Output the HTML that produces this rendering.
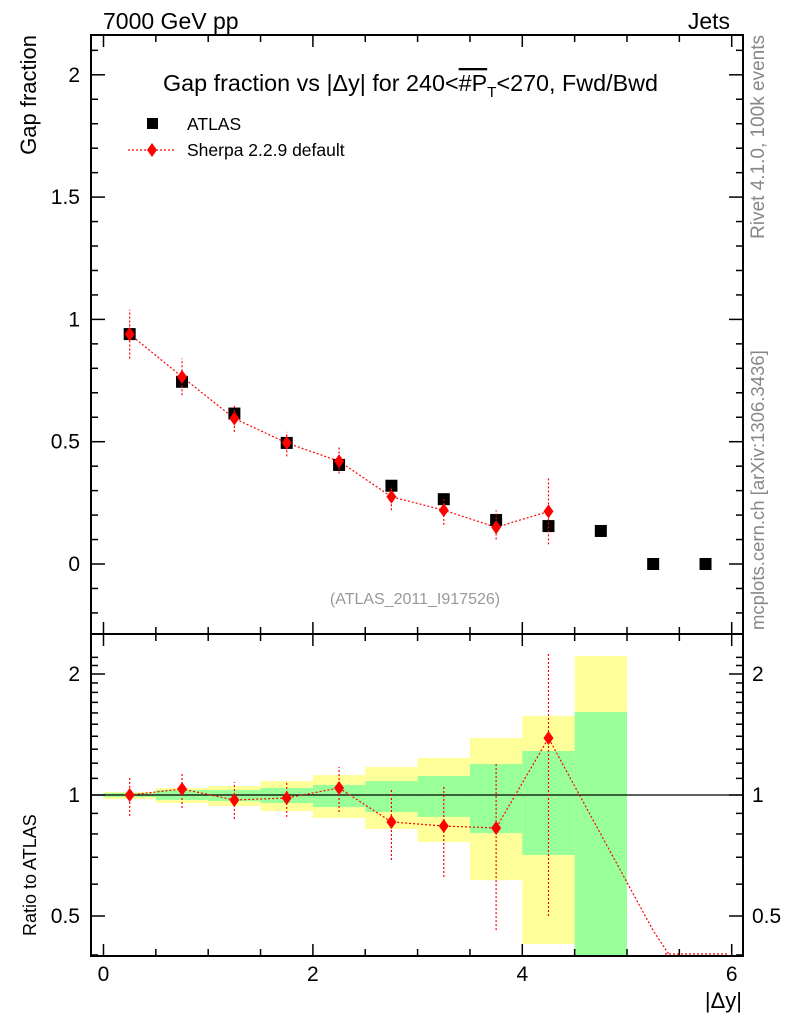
<!DOCTYPE html>
<html><head><meta charset="utf-8"><style>
html,body{margin:0;background:#fff;overflow:hidden;width:786px;height:1024px;}
svg{display:block;font-family:"Liberation Sans",sans-serif;}
</style></head><body>
<svg id="c" width="786" height="1024" xmlns="http://www.w3.org/2000/svg">
<defs>
<clipPath id="cpTop"><rect x="91" y="35" width="652" height="599"/></clipPath>
<clipPath id="cpBot"><rect x="91" y="634" width="652" height="322"/></clipPath>
</defs>
<g id="bands" clip-path="url(#cpBot)"></g>
<g id="lower" clip-path="url(#cpBot)"></g>
<g id="upper" clip-path="url(#cpTop)"></g>
<g id="axes"></g>
<text x="103" y="29" font-size="23">7000 GeV pp</text>
<text x="730" y="29" font-size="23" text-anchor="end">Jets</text>
<text x="163" y="91" font-size="23" textLength="495" lengthAdjust="spacingAndGlyphs">Gap fraction vs |Δy| for 240&lt;<tspan text-decoration="overline">#P</tspan><tspan font-size="15" dy="6">T</tspan><tspan dy="-6">&lt;270, Fwd/Bwd</tspan></text>
<rect x="147" y="118" width="11" height="11" fill="#000"/>
<text x="187" y="130" font-size="17.5">ATLAS</text>
<line x1="128" y1="150" x2="176" y2="150" stroke="red" stroke-dasharray="2,2" stroke-width="1.3"/>
<path d="M152 143 L157 150 L152 157 L147 150Z" fill="red"/>
<text x="187" y="156" font-size="17.5">Sherpa 2.2.9 default</text>
<text x="415" y="604" font-size="16" fill="#999" text-anchor="middle">(ATLAS_2011_I917526)</text>
<text transform="translate(36,35) rotate(-90)" font-size="22" text-anchor="end">Gap fraction</text>
<text transform="translate(36,936) rotate(-90)" font-size="18" text-anchor="start">Ratio to ATLAS</text>
<text x="742" y="1008" font-size="22" text-anchor="end">|Δy|</text>
<text transform="translate(764,35) rotate(-90)" font-size="19" fill="#888" text-anchor="end">Rivet 4.1.0,  100k events</text>
<text transform="translate(764,630) rotate(-90)" font-size="18.5" fill="#888" text-anchor="start">mcplots.cern.ch [arXiv:1306.3436]</text>
</svg>
<script>
const xCenters=[0.25,0.75,1.25,1.75,2.25,2.75,3.25,3.75,4.25,5.25,5.75];
const atlasVals=[0.94,0.745,0.615,0.495,0.405,0.32,0.265,0.18,0.155,0.135,0,0];
const atlasX=[0.25,0.75,1.25,1.75,2.25,2.75,3.25,3.75,4.25,4.75,5.25,5.75];
const sherpaVals=[0.94,0.765,0.595,0.495,0.42,0.275,0.22,0.15,0.215];
const sherpaLo=[0.84,0.69,0.54,0.44,0.37,0.22,0.16,0.10,0.08];
const sherpaHi=[1.04,0.84,0.65,0.54,0.48,0.32,0.27,0.22,0.35];
const ratioVals=[1.0,1.035,0.972,0.983,1.041,0.857,0.837,0.828,1.386,0.46,0.25];
const ratioLo=[0.887,0.928,0.872,0.882,0.907,0.689,0.625,0.461,0.5];
const ratioHi=[1.102,1.134,1.077,1.083,1.174,1.029,1.053,1.194,2.27];
const yellowHi=[1.017,1.041,1.053,1.083,1.121,1.174,1.236,1.386,1.573,2.216];
const yellowLo=[0.977,0.955,0.939,0.912,0.877,0.823,0.764,0.614,0.426,0.01];
const greenHi=[1.011,1.029,1.029,1.041,1.059,1.083,1.115,1.194,1.287,1.609];
const greenLo=[0.989,0.972,0.966,0.955,0.933,0.907,0.882,0.804,0.709,0.01];
const xTicks=[0,2,4,6];
const yTicks=[0,0.5,1,1.5,2];
const rTicks=[0.5,1,2];
const NS="http://www.w3.org/2000/svg";
const X=v=>103.5+v*104.7;
const Y=v=>564-v*244.6;
const R=v=>Math.min(1010,795-Math.log2(v)*121);
function mk(p,t,a){const e=document.createElementNS(NS,t);for(const k in a)e.setAttribute(k,a[k]);document.getElementById(p).appendChild(e);return e;}
for(let i=0;i<yellowHi.length;i++){
  let x0=X(i*0.5),x1=X(i*0.5+0.5);
  let e=mk('bands','rect',{x:x0,y:R(yellowHi[i]),width:x1-x0,height:Math.min(R(yellowLo[i]),960)-R(yellowHi[i]),fill:'#ffff99'});
  
  
  e=mk('bands','rect',{x:x0,y:R(greenHi[i]),width:x1-x0,height:Math.min(R(greenLo[i]),960)-R(greenHi[i]),fill:'#99ff99'});
  
  
}
let e=mk('lower','line',{x1:91,x2:743,y1:R(1),y2:R(1),stroke:'#000','stroke-width':1.2});


let pts=ratioVals.map((v,i)=>X(xCenters[i])+','+R(v)).join(' ');
e=mk('lower','polyline',{points:pts,fill:'none',stroke:'red','stroke-width':1.2,'stroke-dasharray':'2,2'});


e=mk('lower','line',{x1:665,x2:727,y1:954,y2:954,stroke:'red','stroke-width':1.2,'stroke-dasharray':'2,2'});


for(let i=0;i<ratioLo.length;i++){
  const x=X(xCenters[i]),y=R(ratioVals[i]);
  e=mk('lower','line',{x1:x,x2:x,y1:R(ratioLo[i]),y2:R(ratioHi[i]),stroke:'red','stroke-width':1.2,'stroke-dasharray':'2,2'});
  
  
  e=mk('lower','path',{d:`M${x} ${y-7}L${x+5} ${y}L${x} ${y+7}L${x-5} ${y}Z`,fill:'red'});
  
  
}
pts=sherpaVals.map((v,i)=>X(xCenters[i])+','+Y(v)).join(' ');
e=mk('upper','polyline',{points:pts,fill:'none',stroke:'red','stroke-width':1.2,'stroke-dasharray':'2,2'});


for(let i=0;i<atlasVals.length;i++){
  const x=X(atlasX[i]),y=Y(atlasVals[i]);
  e=mk('upper','rect',{x:x-6,y:y-6,width:12,height:12,fill:'#000'});
  
  
}
for(let i=0;i<sherpaVals.length;i++){
  const x=X(xCenters[i]),y=Y(sherpaVals[i]);
  e=mk('upper','line',{x1:x,x2:x,y1:Y(sherpaLo[i]),y2:Y(sherpaHi[i]),stroke:'red','stroke-width':1.2,'stroke-dasharray':'2,2'});
  
  
  e=mk('upper','path',{d:`M${x} ${y-7}L${x+5} ${y}L${x} ${y+7}L${x-5} ${y}Z`,fill:'red'});
  
  
}
e=mk('axes','rect',{x:91,y:35,width:652,height:599,fill:'none',stroke:'#000','stroke-width':2});


e=mk('axes','rect',{x:91,y:634,width:652,height:322,fill:'none',stroke:'#000','stroke-width':2});


for(let v=0;v<=6.01;v+=0.5){
  const x=X(v),L=(Math.abs(v%2)<0.01)?12:7;
  for(const [yb,yt] of [[956,634],[634,35]]){
    mk('axes','line',{x1:x,x2:x,y1:yb,y2:yb-L,stroke:'#000','stroke-width':1.5});
    mk('axes','line',{x1:x,x2:x,y1:yt,y2:yt+L,stroke:'#000','stroke-width':1.5});
  }
}
xTicks.forEach(v=>{const t=mk('axes','text',{x:X(v),y:981,'font-size':21,'text-anchor':'middle'});t.textContent=v;
  
  });
for(let v=-0.2;v<=2.15;v+=0.1){
  const y=Y(v);if(y<36||y>633)continue;
  const maj=Math.abs(Math.round(v*2)-v*2)<0.01,L=maj?14:7;
  mk('axes','line',{x1:91,x2:91+L,y1:y,y2:y,stroke:'#000','stroke-width':1.5});
  mk('axes','line',{x1:743,x2:743-L,y1:y,y2:y,stroke:'#000','stroke-width':1.5});
}
yTicks.forEach(v=>{const t=mk('axes','text',{x:80,y:Y(v)+7,'font-size':21,'text-anchor':'end'});t.textContent=v;
  
  });
for(let v=0.4;v<=2.3;v+=0.1){
  const y=R(v);if(y<635||y>955)continue;
  const maj=rTicks.some(t=>Math.abs(t-v)<0.01),L=maj?14:7;
  mk('axes','line',{x1:91,x2:91+L,y1:y,y2:y,stroke:'#000','stroke-width':1.5});
  mk('axes','line',{x1:743,x2:743-L,y1:y,y2:y,stroke:'#000','stroke-width':1.5});
}
rTicks.forEach(v=>{
  let t=mk('axes','text',{x:80,y:R(v)+7,'font-size':21,'text-anchor':'end'});t.textContent=v;
  
  
  t=mk('axes','text',{x:752,y:R(v)+7,'font-size':21,'text-anchor':'start'});t.textContent=v;
  
  
});
</script>
</body></html>
